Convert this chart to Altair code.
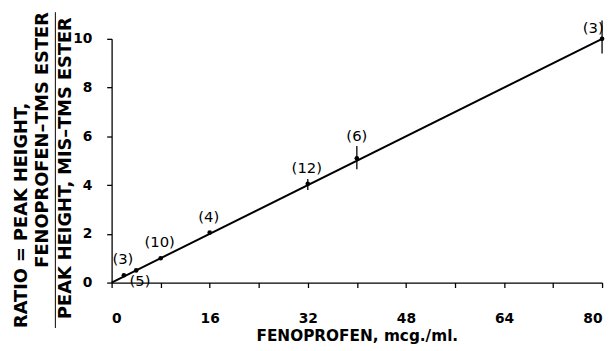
import altair as alt
import pandas as pd

# data
conc = [2, 4, 8, 16, 32, 40, 80]
ratio = [0.3, 0.5, 1.0, 2.05, 4.05, 5.1, 10.0]
n_label = ["(3)", "(5)", "(10)", "(4)", "(12)", "(6)", "(3)"]

err_conc = [32, 40, 80]
err_lo = [3.8, 4.65, 9.4]
err_hi = [4.25, 5.6, 10.75]

fit_x = [0, 80]
fit_y = [0, 10]

x_ticks = [0, 8, 16, 24, 32, 40, 48, 56, 64, 72, 80]
y_ticks = [0, 2, 4, 6, 8, 10]

x_title = "FENOPROFEN, mcg./ml."
y_title_1 = "RATIO = PEAK HEIGHT,"
y_title_2 = "FENOPROFEN\u2013TMS ESTER"
y_title_3 = "PEAK HEIGHT, MIS\u2013TMS ESTER"

FONT = "DejaVu Sans"

pts = pd.DataFrame({"conc": conc, "ratio": ratio, "n": n_label})
err = pd.DataFrame({"conc": err_conc, "lo": err_lo, "hi": err_hi})
fit = pd.DataFrame({"conc": fit_x, "ratio": fit_y})

xs = alt.Scale(domain=[0, 80], nice=False, zero=False)
ys = alt.Scale(domain=[0, 10], nice=False, zero=False)

x_axis = alt.Axis(
    values=x_ticks,
    labelExpr="datum.value % 16 == 0 ? datum.label : ''",
    grid=False, tickSize=5, tickColor="black", domainColor="black",
    domainWidth=1.3, tickWidth=1.3, labelColor="black", labelFont=FONT,
    labelFontSize=14, labelFontWeight="bold", labelPadding=24,
    titleFont=FONT, titleFontSize=15.5, titleFontWeight="bold",
    titleColor="black", titlePadding=4,
)
y_axis = alt.Axis(
    values=y_ticks, grid=False, tickSize=5, tickColor="black",
    domainColor="black", domainWidth=1.3, tickWidth=1.3, labelColor="black",
    labelFont=FONT, labelFontSize=14, labelFontWeight="bold", labelPadding=15,
)


def X(field):
    return alt.X(field, type="quantitative", scale=xs, axis=x_axis, title=x_title)


def Y(field):
    return alt.Y(field, type="quantitative", scale=ys, axis=y_axis, title="")


line = alt.Chart(fit).mark_line(color="black", strokeWidth=2).encode(
    x=X("conc"), y=Y("ratio"))

bars = alt.Chart(err).mark_rule(color="black", strokeWidth=1.3).encode(
    x=X("conc"), y=Y("lo"), y2="hi")

dots = alt.Chart(pts).mark_point(filled=True, color="black", size=22, opacity=1).encode(
    x=X("conc"), y=Y("ratio"))


def labels(values, dx, dy):
    return alt.Chart(pts).transform_filter(
        alt.FieldOneOfPredicate(field="conc", oneOf=values)
    ).mark_text(font=FONT, fontSize=15, color="black", dx=dx, dy=dy,
                align="center", baseline="middle").encode(
        x=X("conc"), y=Y("ratio"), text="n:N")


lab_above = labels([2, 8, 16, 32], -1, -16)
lab_six = labels([40], 0, -23)
lab_five = labels([4], 4, 11)
lab_end = labels([80], -9, -11)


def ytext(s, px, py, align):
    return alt.Chart(pd.DataFrame({"t": [s]})).mark_text(
        font=FONT, fontSize=18, fontWeight="bold", color="black", angle=270,
        align=align, baseline="middle").encode(
        x=alt.value(px), y=alt.value(py), text="t:N")


t1 = ytext(y_title_1, -91, 293, "left")
t2 = ytext(y_title_2, -69, -27, "right")
t3 = ytext(y_title_3, -46, 131, "center")
frac = alt.Chart(pd.DataFrame({"t": [0]})).mark_rule(color="black", strokeWidth=1).encode(
    x=alt.value(-57), y=alt.value(-27), y2=alt.value(293))

chart = alt.layer(
    line, bars, dots, lab_above, lab_six, lab_five, lab_end, t1, t2, t3, frac
).properties(
    width=497, height=247,
    padding={"left": 105, "top": 29, "right": 5, "bottom": 60},
    autosize=alt.AutoSizeParams(type="none"),
    background="white",
).configure_view(stroke=None)

chart.save("out.html", embed_options={"renderer": "svg", "actions": False})
